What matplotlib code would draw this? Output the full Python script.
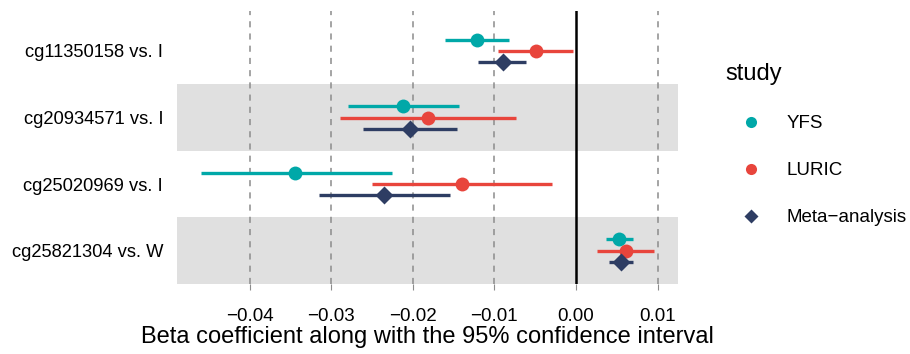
import numpy as np
import matplotlib.pyplot as plt
from matplotlib.lines import Line2D

plt.rcParams['font.family'] = ['Liberation Sans', 'DejaVu Sans']

# CpG comparisons, bottom to top
probes = ["cg25821304 vs. W", "cg25020969 vs. I", "cg20934571 vs. I", "cg11350158 vs. I"]

studies = ["YFS", "LURIC", "Meta-analysis"]
yfs_est = [0.0053, -0.0344, -0.0212, -0.0121]
yfs_lo = [0.0037, -0.0460, -0.0279, -0.0160]
yfs_hi = [0.0070, -0.0226, -0.0143, -0.0082]

luric_est = [0.0061, -0.0140, -0.0181, -0.0049]
luric_lo = [0.0026, -0.0250, -0.0289, -0.0095]
luric_hi = [0.0096, -0.0030, -0.0073, -0.0004]

meta_est = [0.0055, -0.0235, -0.0203, -0.0090]
meta_lo = [0.0040, -0.0315, -0.0261, -0.0120]
meta_hi = [0.0070, -0.0155, -0.0146, -0.0061]

colors = ["#00A8A8", "#E8453C", "#2E3D63"]
markers = ["o", "o", "D"]
offsets = [0.17, 0.0, -0.17]

fig = plt.figure(figsize=(9.1, 3.54), dpi=100)
ax = fig.add_axes([0.1945, 0.1977, 0.5502, 0.7713])

ypos = np.arange(1, len(probes) + 1)

# alternating grey bands
for y in ypos:
    if y % 2 == 1:
        ax.axhspan(y - 0.5, y + 0.5, color="#E0E0E0", zorder=0, lw=0)

xticks = [-0.04, -0.03, -0.02, -0.01, 0.0, 0.01]
for xt in xticks:
    if xt != 0:
        ax.axvline(xt, color="#8C8C8C", lw=1.1, ls=(0, (4, 4)), zorder=1)
ax.axvline(0, color="black", lw=1.8, zorder=2)

series = [(yfs_est, yfs_lo, yfs_hi), (luric_est, luric_lo, luric_hi),
          (meta_est, meta_lo, meta_hi)]
for (est, lo, hi), c, m, off in zip(series, colors, markers, offsets):
    yy = ypos + off
    ax.hlines(yy, lo, hi, color=c, lw=2.4, zorder=3)
    ms = 10 if m == "o" else 9
    ax.plot(est, yy, ls="none", marker=m, color=c, ms=ms, mec="none", zorder=4)

ax.set_xlim(-0.0489, 0.01246)
ax.set_ylim(0.5, 4.6)
ax.set_xticks(xticks)
ax.set_xticklabels(["\u22120.04", "\u22120.03", "\u22120.02", "\u22120.01", "0.00", "0.01"])
ax.set_yticks(ypos)
ax.set_yticklabels(probes)
ax.tick_params(axis="x", length=4, color="#8C8C8C", labelsize=13.5, pad=13)
ax.tick_params(axis="y", length=0, labelsize=13.2, pad=10)
for s in ax.spines.values():
    s.set_visible(False)
ax.set_xlabel("Beta coefficient along with the 95% confidence interval", fontsize=17, labelpad=1)

handles = [Line2D([], [], ls="none", marker=m, color=c, ms=(8 if m == "o" else 7), mec="none")
           for m, c in zip(markers, colors)]
leg = fig.legend(handles, ["YFS", "LURIC", "Meta\u2212analysis"], title="study",
                 loc="upper left", bbox_to_anchor=(0.789, 0.843), frameon=False,
                 fontsize=13.5, title_fontsize=17, labelspacing=1.6, handletextpad=0.5,
                 handlelength=2.75, borderaxespad=0)
leg._legend_box.align = "left"

fig.savefig("out.png", dpi=100)
